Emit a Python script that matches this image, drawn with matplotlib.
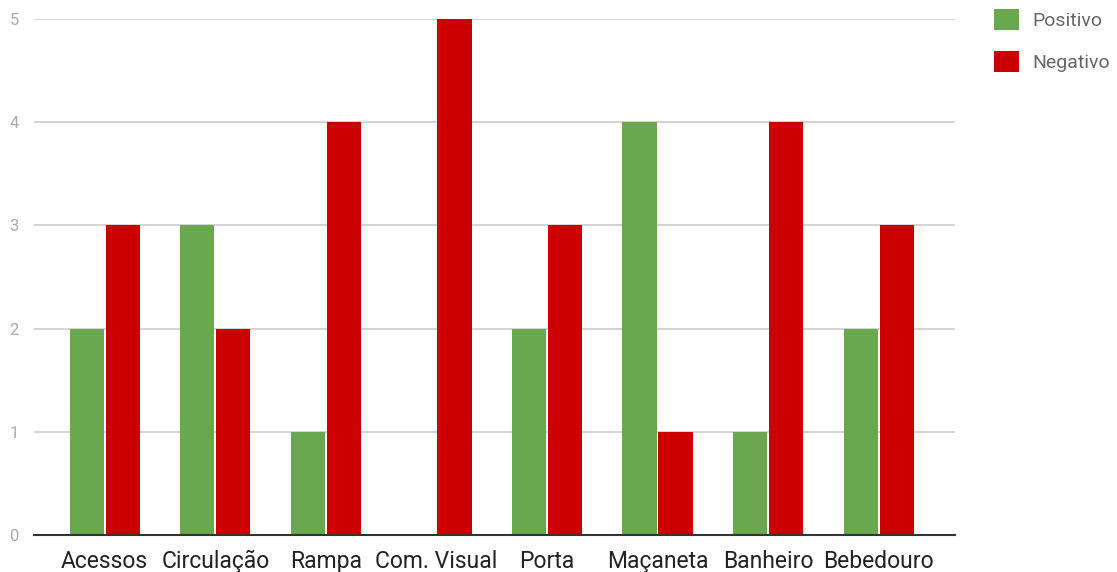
import matplotlib.pyplot as plt
import numpy as np

plt.rcParams['font.family'] = ['Roboto', 'DejaVu Sans']

# Categorias e contagens
categorias = ['Acessos', 'Circulação', 'Rampa', 'Com. Visual', 'Porta',
              'Maçaneta', 'Banheiro', 'Bebedouro']
positivo = [2, 3, 1, 0, 2, 4, 1, 2]
negativo = [3, 2, 4, 5, 3, 1, 4, 3]

verde = '#6aa84f'
vermelho = '#cc0000'

fig = plt.figure(figsize=(11.17, 5.72), dpi=100)
ax = fig.add_axes([0.0304, 0.0647, 0.8246, 0.9021])

x = np.arange(len(categorias))
w = 0.31
off = 0.163
ax.bar(x - off, positivo, w, color=verde, label='Positivo', zorder=3)
ax.bar(x + off, negativo, w, color=vermelho, label='Negativo', zorder=3)

ax.set_xlim(-0.64, 7.69)
ax.set_ylim(0, 5)
ax.set_yticks(range(6))
ax.yaxis.grid(True, color='#cccccc', linewidth=1.2, zorder=0)
ax.set_xticks(x)
ax.set_xticklabels(categorias, fontsize=16.5, color='#222222')
ax.tick_params(axis='y', labelsize=12, labelcolor='#aaaaaa', length=0, pad=11)
ax.tick_params(axis='x', length=0, pad=11)
for s in ['top', 'right', 'left']:
    ax.spines[s].set_visible(False)
ax.spines['bottom'].set_color('#333333')
ax.spines['bottom'].set_linewidth(1.5)
ax.spines['bottom'].set_zorder(4)

leg = fig.legend(loc='upper left', bbox_to_anchor=(0.874, 1.015), frameon=False,
                 fontsize=14, handlelength=1.3, handleheight=1.3,
                 labelspacing=1.05, handletextpad=0.7)
for t in leg.get_texts():
    t.set_color('#666666')

fig.savefig('out.png', dpi=100)
